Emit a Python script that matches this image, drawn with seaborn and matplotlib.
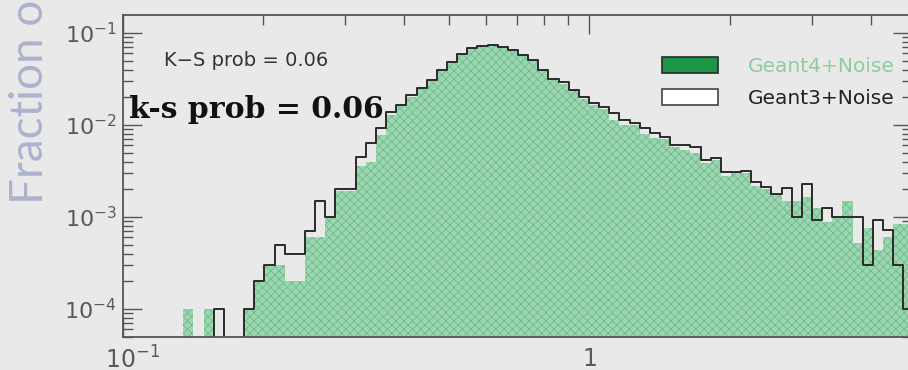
import numpy as np
import pandas as pd
import matplotlib
matplotlib.use("Agg")
import matplotlib.pyplot as plt
from matplotlib.patches import Patch
from matplotlib.transforms import ScaledTranslation
from matplotlib.ticker import LogLocator, NullFormatter, FixedLocator, FixedFormatter
import seaborn as sns

# ---------------- data ----------------
# histogram bins: uniform in ln(x), width 0.05, starting at 0.1
bin_start = 0.1
bin_step_ln = 0.05
n_bins = 78

geant4_noise = [
    0, 0, 0, 0, 0, 0, 1e-4, 0, 1e-4, 0,                      # 0-9
    0, 0, 1e-4, 2e-4, 3e-4, 3e-4, 2e-4, 2e-4, 6e-4, 6e-4,    # 10-19
    1.0e-3, 1.9e-3, 1.9e-3, 3.6e-3, 4.0e-3, 7.8e-3, 1.3e-2, 1.6e-2, 2.0e-2, 2.5e-2,   # 20-29
    3.0e-2, 3.9e-2, 4.8e-2, 5.8e-2, 6.8e-2, 7.2e-2, 7.4e-2, 7.0e-2, 6.5e-2, 5.7e-2,   # 30-39
    5.0e-2, 3.9e-2, 3.2e-2, 2.8e-2, 2.4e-2, 1.9e-2, 1.65e-2, 1.5e-2, 1.13e-2, 1.0e-2, # 40-49
    1.0e-2, 8.0e-3, 7.2e-3, 7.0e-3, 5.8e-3, 5.3e-3, 5.0e-3, 3.9e-3, 4.2e-3, 2.8e-3,   # 50-59
    3.0e-3, 3.0e-3, 2.2e-3, 2.0e-3, 1.8e-3, 1.5e-3, 1.5e-3, 1.65e-3, 1.25e-3, 8.9e-4, # 60-69
    1.0e-3, 1.5e-3, 5.2e-4, 7.6e-4, 4.4e-4, 6.0e-4, 8.3e-4, 8.3e-4,                  # 70-77
]
geant3_noise = [
    0, 0, 0, 0, 0, 0, 0, 0, 0, 1e-4,
    0, 0, 1e-4, 2e-4, 3e-4, 5e-4, 4e-4, 4e-4, 7e-4, 1.5e-3,
    1.0e-3, 2.0e-3, 2.0e-3, 4.5e-3, 6.4e-3, 9.3e-3, 1.4e-2, 1.65e-2, 2.1e-2, 2.5e-2,
    3.1e-2, 4.0e-2, 4.8e-2, 5.9e-2, 6.9e-2, 7.2e-2, 7.4e-2, 7.05e-2, 6.5e-2, 5.8e-2,
    5.1e-2, 4.0e-2, 3.2e-2, 2.9e-2, 2.4e-2, 2.0e-2, 1.73e-2, 1.57e-2, 1.35e-2, 1.13e-2,
    1.05e-2, 9.3e-3, 8.2e-3, 7.4e-3, 6.1e-3, 6.1e-3, 5.8e-3, 4.2e-3, 4.4e-3, 3.1e-3,
    3.1e-3, 3.2e-3, 2.4e-3, 2.1e-3, 1.8e-3, 2.07e-3, 1.0e-3, 2.3e-3, 9.3e-4, 1.25e-3,
    1.0e-3, 1.0e-3, 1.0e-3, 3e-4, 9.3e-4, 7.2e-4, 3e-4, 1e-4,
]

series_labels = ["Geant4+Noise", "Geant3+Noise"]
x_ticks = [0.1, 1.0]
x_tick_labels = [r"$10^{-1}$", "1"]
y_ticks = [1e-4, 1e-3, 1e-2, 1e-1]
y_tick_labels = [r"$10^{-4}$", r"$10^{-3}$", r"$10^{-2}$", r"$10^{-1}$"]
ylabel = "Fraction of Events"
ks_small = "K\u2212S prob = 0.06"
ks_big = "k-s prob = 0.06"

# ---------------- style ----------------
bg = "#e9e9e9"
fill_green = "#9ad6b0"
hatch_green = "#72b98d"
legend_green = "#1c9646"
axis_grey = "#555555"

sns.set_style("ticks")
plt.rcParams["font.family"] = ["DejaVu Sans"]
plt.rcParams["hatch.linewidth"] = 0.6
plt.rcParams["hatch.color"] = hatch_green

W, H = 908, 370
fig = plt.figure(figsize=(W / 100, H / 100), dpi=100)
fig.patch.set_facecolor(bg)
ax_left, ax_right, ax_top, ax_bottom = 122.5, 911.8, 15, 337
ax = fig.add_axes([ax_left / W, (H - ax_bottom) / H,
                   (ax_right - ax_left) / W, (ax_bottom - ax_top) / H])
ax.set_facecolor(bg)

edges = bin_start * np.exp(bin_step_ln * np.arange(n_bins + 1))
centers = np.sqrt(edges[:-1] * edges[1:])
bin_list = [float(e) for e in edges]

df = pd.DataFrame({"x": centers,
                   "g4": np.asarray(geant4_noise, dtype=float),
                   "g3": np.asarray(geant3_noise, dtype=float)})

sns.histplot(data=df, x="x", weights="g4", bins=bin_list, element="step",
             fill=True, color=fill_green, alpha=1.0, linewidth=0, ax=ax)
fill_coll = ax.collections[-1]
fill_coll.set_facecolor(fill_green)
fill_coll.set_hatch("xxxx")
fill_coll.set_edgecolor(hatch_green)
fill_coll.set_linewidth(0)

sns.histplot(data=df, x="x", weights="g3", bins=bin_list, element="step",
             fill=False, color="#2a2a2a", linewidth=1.4, ax=ax)

ax.set_xscale("log")
ax.set_yscale("log")
ax.set_xlim(0.1, 4.9)
ax.set_ylim(4.97e-5, 0.157)
ax.set_xlabel("")

ax.xaxis.set_major_locator(FixedLocator(x_ticks))
ax.xaxis.set_major_formatter(FixedFormatter(x_tick_labels))
ax.xaxis.set_minor_locator(LogLocator(base=10, subs=np.arange(2, 10) * 1.0, numticks=20))
ax.xaxis.set_minor_formatter(NullFormatter())
ax.yaxis.set_major_locator(FixedLocator(y_ticks))
ax.yaxis.set_major_formatter(FixedFormatter(y_tick_labels))
ax.yaxis.set_minor_locator(LogLocator(base=10, subs=np.arange(2, 10) * 1.0, numticks=20))
ax.yaxis.set_minor_formatter(NullFormatter())

for s in ax.spines.values():
    s.set_color(axis_grey)
    s.set_linewidth(1.3)
ax.tick_params(which="both", direction="in", top=True, right=True,
               color=axis_grey, width=1.0)
ax.tick_params(which="major", length=14, labelsize=16, labelcolor="#5a5a5a", pad=4)
ax.tick_params(axis="x", which="major", labelsize=17, pad=7)
ax.tick_params(which="minor", length=7)

# shift the 10^-1 x label so its base sits on the tick, like the reference
fig.canvas.draw()
xl = ax.get_xticklabels()
xl[0].set_transform(xl[0].get_transform() + ScaledTranslation(10 / 100, 0, fig.dpi_scale_trans))

# y label (cut off at the top like the reference)
ax.set_ylabel(ylabel, fontsize=33, color="#adb2cd", ha="left",
              family=["Lato", "DejaVu Sans"], fontweight="normal")
ax.yaxis.set_label_coords((51 - ax_left) / (ax_right - ax_left),
                          (ax_bottom - 204) / (ax_bottom - ax_top))

# annotations
ax.text(0.1225, 0.0509, ks_small, fontsize=14, color="#333333", va="center", ha="left")
ax.text(0.1032, 0.0119, ks_big, fontsize=21.5, color="#111111", va="baseline", ha="left",
        family=["DejaVu Serif"], fontweight="bold")

# legend
handles = [Patch(facecolor=legend_green, edgecolor="#2a2a2a", linewidth=1.2),
           Patch(facecolor="white", edgecolor="#444444", linewidth=1.2)]
leg = ax.legend(handles, series_labels, loc="upper left",
                bbox_to_anchor=(652 / W, (H - 47) / H), bbox_transform=fig.transFigure,
                frameon=False, borderpad=0, handlelength=2.8, handleheight=0.8,
                handletextpad=1.45, labelspacing=0.65, prop=dict(size=14.5))
leg.get_texts()[0].set_color("#8fcca0")
leg.get_texts()[1].set_color("#222222")

fig.savefig("out.png", dpi=100, facecolor=bg)
